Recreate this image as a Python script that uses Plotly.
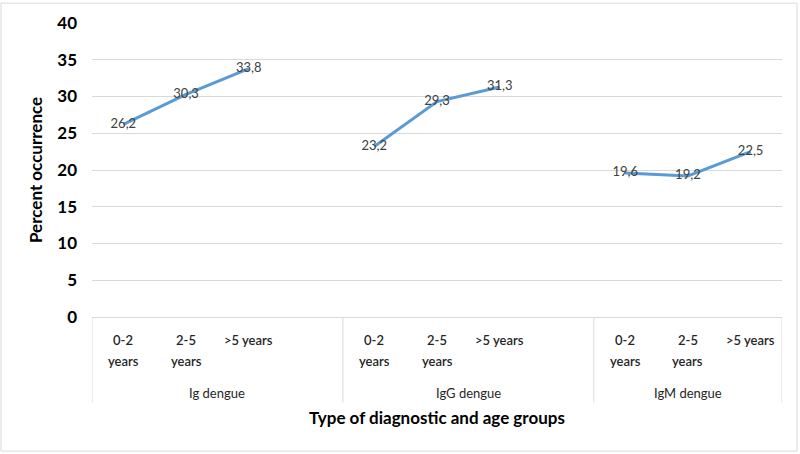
import plotly.graph_objects as go

groups = ["Ig dengue", "IgG dengue", "IgM dengue"]
age_groups = ["0-2 years", "2-5 years", ">5 years"]
ig_values = [26.2, 30.3, 33.8]
igg_values = [23.2, 29.3, 31.3]
igm_values = [19.6, 19.2, 22.5]
y_ticks = [0, 5, 10, 15, 20, 25, 30, 35, 40]

# build category positions with a blank slot between groups
series = [ig_values, igg_values, igm_values]
xs, ys, texts = [], [], []
pos = 0
group_spans = []
tick_pos, tick_lab = [], []
for gi, vals in enumerate(series):
    start = pos
    for ai, v in enumerate(vals):
        xs.append(pos)
        ys.append(v)
        texts.append(f"{v:.1f}".replace(".", ","))
        tick_pos.append(pos)
        tick_lab.append(age_groups[ai])
        pos += 1
    if gi < len(series) - 1:
        xs.append(pos)
        ys.append(None)
        texts.append("")
        pos += 1
    group_spans.append((start - 0.5, pos - 0.5))

FONT = "Lato"
fig = go.Figure()
fig.add_trace(go.Scatter(
    x=xs, y=ys, mode="lines+text", text=texts, textposition="middle center",
    textfont=dict(family=FONT, size=13, color="#404040"),
    line=dict(color="#5B9BD5", width=3), connectgaps=False, hoverinfo="skip",
))

def py(p):
    return (317 - p) / 296.0

annotations = []
for x, lab in zip(tick_pos, tick_lab):
    if lab.startswith(">"):
        lines = [lab]
    else:
        lines = lab.split(" ")
    for li, t in enumerate(lines):
        annotations.append(dict(x=x, y=py(340 + 21 * li), xref="x", yref="paper", text=t,
                                showarrow=False, xanchor="center", yanchor="middle",
                                font=dict(family=FONT, size=13, color="#262626", weight=600)))
for (a, b), g in zip(group_spans, groups):
    annotations.append(dict(x=(a + b) / 2, y=py(394), xref="x", yref="paper", text=g,
                            showarrow=False, xanchor="center", yanchor="middle",
                            font=dict(family=FONT, size=13, color="#262626")))
annotations.append(dict(x=(group_spans[0][0] + group_spans[-1][1]) / 2, y=py(418), xref="x", yref="paper",
                        text="<b>Type of diagnostic and age groups</b>", showarrow=False,
                        xanchor="center", yanchor="middle",
                        font=dict(family=FONT, size=17, color="#000000")))
annotations.append(dict(x=(35 - 92) / 690.0, y=0.5, xref="paper", yref="paper",
                        text="<b>Percent occurrence</b>", showarrow=False, textangle=-90,
                        xanchor="center", yanchor="middle",
                        font=dict(family=FONT, size=17, color="#000000")))

shapes = []
edges = [group_spans[0][0]] + [b for a, b in group_spans]
for e in edges:
    shapes.append(dict(type="line", xref="x", yref="paper", x0=e, x1=e, y0=0, y1=py(403),
                       line=dict(color="#d9d9d9", width=1)))
shapes.append(dict(type="rect", xref="paper", yref="paper",
                   x0=(1 - 92) / 690.0, x1=(797 - 92) / 690.0, y0=py(452), y1=py(1),
                   line=dict(color="#d9d9d9", width=1)))

fig.update_layout(
    width=800, height=454, margin=dict(l=92, r=18, t=21, b=137),
    paper_bgcolor="white", plot_bgcolor="white", showlegend=False,
    annotations=annotations, shapes=shapes,
    xaxis=dict(range=[group_spans[0][0], group_spans[-1][1]], showticklabels=False,
               showgrid=False, zeroline=False, showline=True, linecolor="#d9d9d9", linewidth=1),
    yaxis=dict(range=[0, 40], tickvals=y_ticks, showgrid=True, gridcolor="#d9d9d9",
               zeroline=False, showline=False, ticks="", ticklabelstandoff=14,
               tickfont=dict(family=FONT, size=17, color="#000000", weight="bold")),
)
fig.write_html("out.html", config={"displayModeBar": False},
               post_script="document.body.style.margin='0';document.body.style.overflow='hidden';")
